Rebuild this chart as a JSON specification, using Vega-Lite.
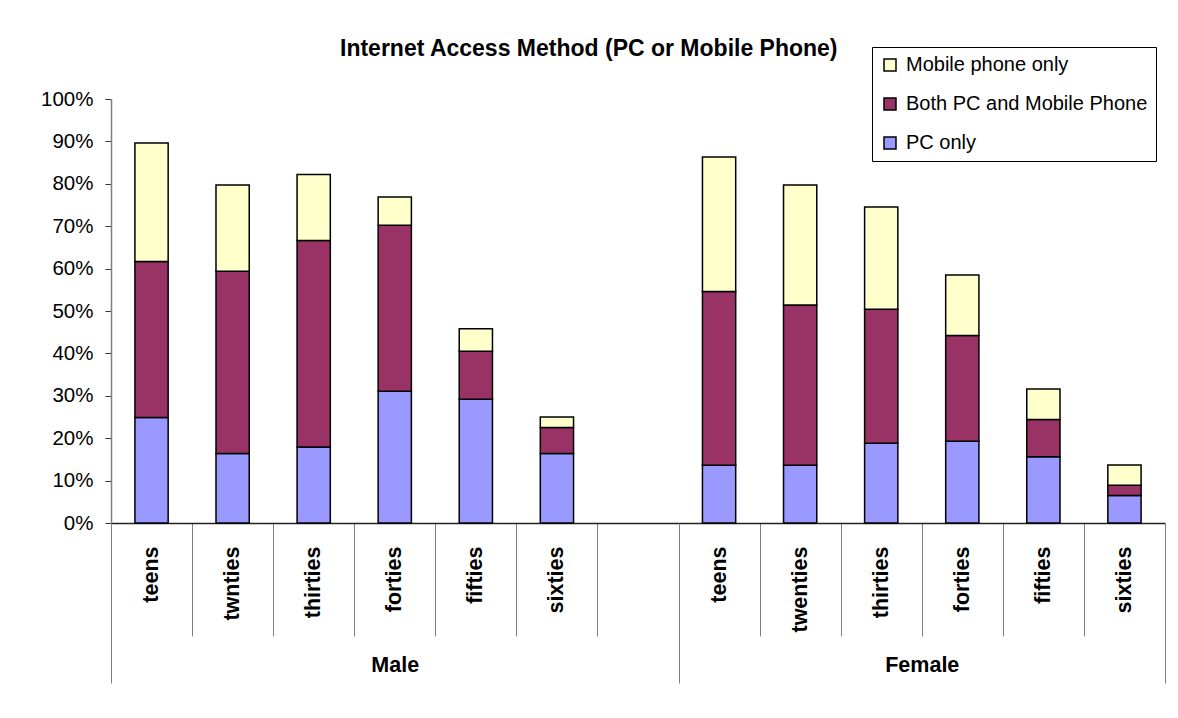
{
  "$schema": "https://vega.github.io/schema/vega-lite/v6.json",
  "width": 1054,
  "height": 424,
  "autosize": {"type": "none"},
  "padding": {"left": 111, "top": 99, "right": 13, "bottom": 195},
  "background": "white",
  "config": {"font": "Liberation Sans", "view": {"stroke": null}},
  "title": {
    "text": "Internet Access Method (PC or Mobile Phone)",
    "fontSize": 23,
    "fontWeight": "bold",
    "color": "black",
    "anchor": "start",
    "frame": "group",
    "dx": 229,
    "dy": 44,
    "offset": 30
  },
  "layer": [
    {
      "data": {
        "values": [
          {"gender": "Male", "age": "teens", "method": "PC only", "value": 0.249},
          {"gender": "Male", "age": "teens", "method": "Both PC and Mobile Phone", "value": 0.368},
          {"gender": "Male", "age": "teens", "method": "Mobile phone only", "value": 0.279},
          {"gender": "Male", "age": "twnties", "method": "PC only", "value": 0.164},
          {"gender": "Male", "age": "twnties", "method": "Both PC and Mobile Phone", "value": 0.430},
          {"gender": "Male", "age": "twnties", "method": "Mobile phone only", "value": 0.203},
          {"gender": "Male", "age": "thirties", "method": "PC only", "value": 0.179},
          {"gender": "Male", "age": "thirties", "method": "Both PC and Mobile Phone", "value": 0.487},
          {"gender": "Male", "age": "thirties", "method": "Mobile phone only", "value": 0.156},
          {"gender": "Male", "age": "forties", "method": "PC only", "value": 0.311},
          {"gender": "Male", "age": "forties", "method": "Both PC and Mobile Phone", "value": 0.391},
          {"gender": "Male", "age": "forties", "method": "Mobile phone only", "value": 0.067},
          {"gender": "Male", "age": "fifties", "method": "PC only", "value": 0.292},
          {"gender": "Male", "age": "fifties", "method": "Both PC and Mobile Phone", "value": 0.113},
          {"gender": "Male", "age": "fifties", "method": "Mobile phone only", "value": 0.053},
          {"gender": "Male", "age": "sixties", "method": "PC only", "value": 0.164},
          {"gender": "Male", "age": "sixties", "method": "Both PC and Mobile Phone", "value": 0.061},
          {"gender": "Male", "age": "sixties", "method": "Mobile phone only", "value": 0.025},
          {"gender": "Female", "age": "teens", "method": "PC only", "value": 0.136},
          {"gender": "Female", "age": "teens", "method": "Both PC and Mobile Phone", "value": 0.410},
          {"gender": "Female", "age": "teens", "method": "Mobile phone only", "value": 0.317},
          {"gender": "Female", "age": "twenties", "method": "PC only", "value": 0.136},
          {"gender": "Female", "age": "twenties", "method": "Both PC and Mobile Phone", "value": 0.378},
          {"gender": "Female", "age": "twenties", "method": "Mobile phone only", "value": 0.283},
          {"gender": "Female", "age": "thirties", "method": "PC only", "value": 0.188},
          {"gender": "Female", "age": "thirties", "method": "Both PC and Mobile Phone", "value": 0.316},
          {"gender": "Female", "age": "thirties", "method": "Mobile phone only", "value": 0.241},
          {"gender": "Female", "age": "forties", "method": "PC only", "value": 0.193},
          {"gender": "Female", "age": "forties", "method": "Both PC and Mobile Phone", "value": 0.249},
          {"gender": "Female", "age": "forties", "method": "Mobile phone only", "value": 0.143},
          {"gender": "Female", "age": "fifties", "method": "PC only", "value": 0.156},
          {"gender": "Female", "age": "fifties", "method": "Both PC and Mobile Phone", "value": 0.088},
          {"gender": "Female", "age": "fifties", "method": "Mobile phone only", "value": 0.072},
          {"gender": "Female", "age": "sixties", "method": "PC only", "value": 0.065},
          {"gender": "Female", "age": "sixties", "method": "Both PC and Mobile Phone", "value": 0.024},
          {"gender": "Female", "age": "sixties", "method": "Mobile phone only", "value": 0.048}
        ]
      },
      "transform": [
        {"calculate": "datum.gender + ' ' + datum.age", "as": "slot"},
        {"calculate": "indexof(['PC only', 'Both PC and Mobile Phone', 'Mobile phone only'], datum.method)", "as": "rank"}
      ],
      "mark": {"type": "bar", "width": {"band": 0.41}, "stroke": "black", "strokeWidth": 1.5},
      "encoding": {
        "x": {
          "field": "slot",
          "type": "nominal",
          "scale": {
            "domain": ["Male teens", "Male twnties", "Male thirties", "Male forties", "Male fifties", "Male sixties", "gap",
                       "Female teens", "Female twenties", "Female thirties", "Female forties", "Female fifties", "Female sixties"],
            "paddingInner": 0,
            "paddingOuter": 0
          },
          "axis": {
            "orient": "bottom",
            "title": null,
            "labelExpr": "datum.value == 'gap' ? '' : split(datum.value, ' ')[1]",
            "labelAngle": 270,
            "labelAlign": "right",
            "labelBaseline": "middle",
            "labelPadding": -90,
            "labelFontSize": 21.5,
            "labelFontWeight": "bold",
            "labelColor": "black",
            "tickBand": "extent",
            "tickSize": 113,
            "tickColor": "#808080",
            "tickWidth": 1,
            "domainColor": "#222222",
            "domainWidth": 1.5
          }
        },
        "y": {
          "field": "value",
          "type": "quantitative",
          "stack": "zero",
          "scale": {"domain": [0, 1]},
          "axis": {
            "title": null,
            "values": [0, 0.1, 0.2, 0.3, 0.4, 0.5, 0.6, 0.7, 0.8, 0.9, 1],
            "format": ".0%",
            "grid": false,
            "tickSize": 6,
            "tickColor": "#333333",
            "labelPadding": 12,
            "labelFontSize": 20.5,
            "labelColor": "black",
            "domainColor": "#808080",
            "domainWidth": 1.5
          }
        },
        "color": {
          "field": "method",
          "type": "nominal",
          "scale": {
            "domain": ["Mobile phone only", "Both PC and Mobile Phone", "PC only"],
            "range": ["#FFFFCC", "#993366", "#9999FF"]
          },
          "legend": {
            "title": null,
            "orient": "none",
            "legendX": 761,
            "legendY": -52,
            "strokeColor": "black",
            "fillColor": "white",
            "padding": 8,
            "symbolType": "square",
            "symbolSize": 144,
            "symbolStrokeColor": "black",
            "symbolStrokeWidth": 1.5,
            "symbolOpacity": 1,
            "labelFontSize": 20,
            "labelColor": "black",
            "labelOffset": 6,
            "labelLimit": 400,
            "rowPadding": 19
          }
        },
        "order": {"field": "rank", "type": "quantitative"}
      }
    },
    {
      "data": {"values": [{}]},
      "mark": {"type": "rule", "opacity": 0},
      "encoding": {
        "x": {
          "datum": 0,
          "type": "quantitative",
          "scale": {"domain": [0, 13], "nice": false, "zero": false},
          "axis": {
            "orient": "bottom",
            "title": null,
            "values": [0, 3.5, 7, 10, 13],
            "labelExpr": "datum.value == 3.5 ? 'Male' : datum.value == 10 ? 'Female' : ''",
            "labelAngle": 0,
            "labelFlush": false,
            "labelOverlap": false,
            "labelPadding": -29,
            "labelFontSize": 21.5,
            "labelFontWeight": "bold",
            "labelColor": "black",
            "tickSize": 160,
            "tickColor": "#808080",
            "tickWidth": 1,
            "tickOpacity": {"condition": {"test": "datum.value == 3.5 || datum.value == 10", "value": 0}, "value": 1},
            "domain": false,
            "grid": false
          }
        }
      }
    }
  ],
  "resolve": {"scale": {"x": "independent"}, "axis": {"x": "independent"}}
}
